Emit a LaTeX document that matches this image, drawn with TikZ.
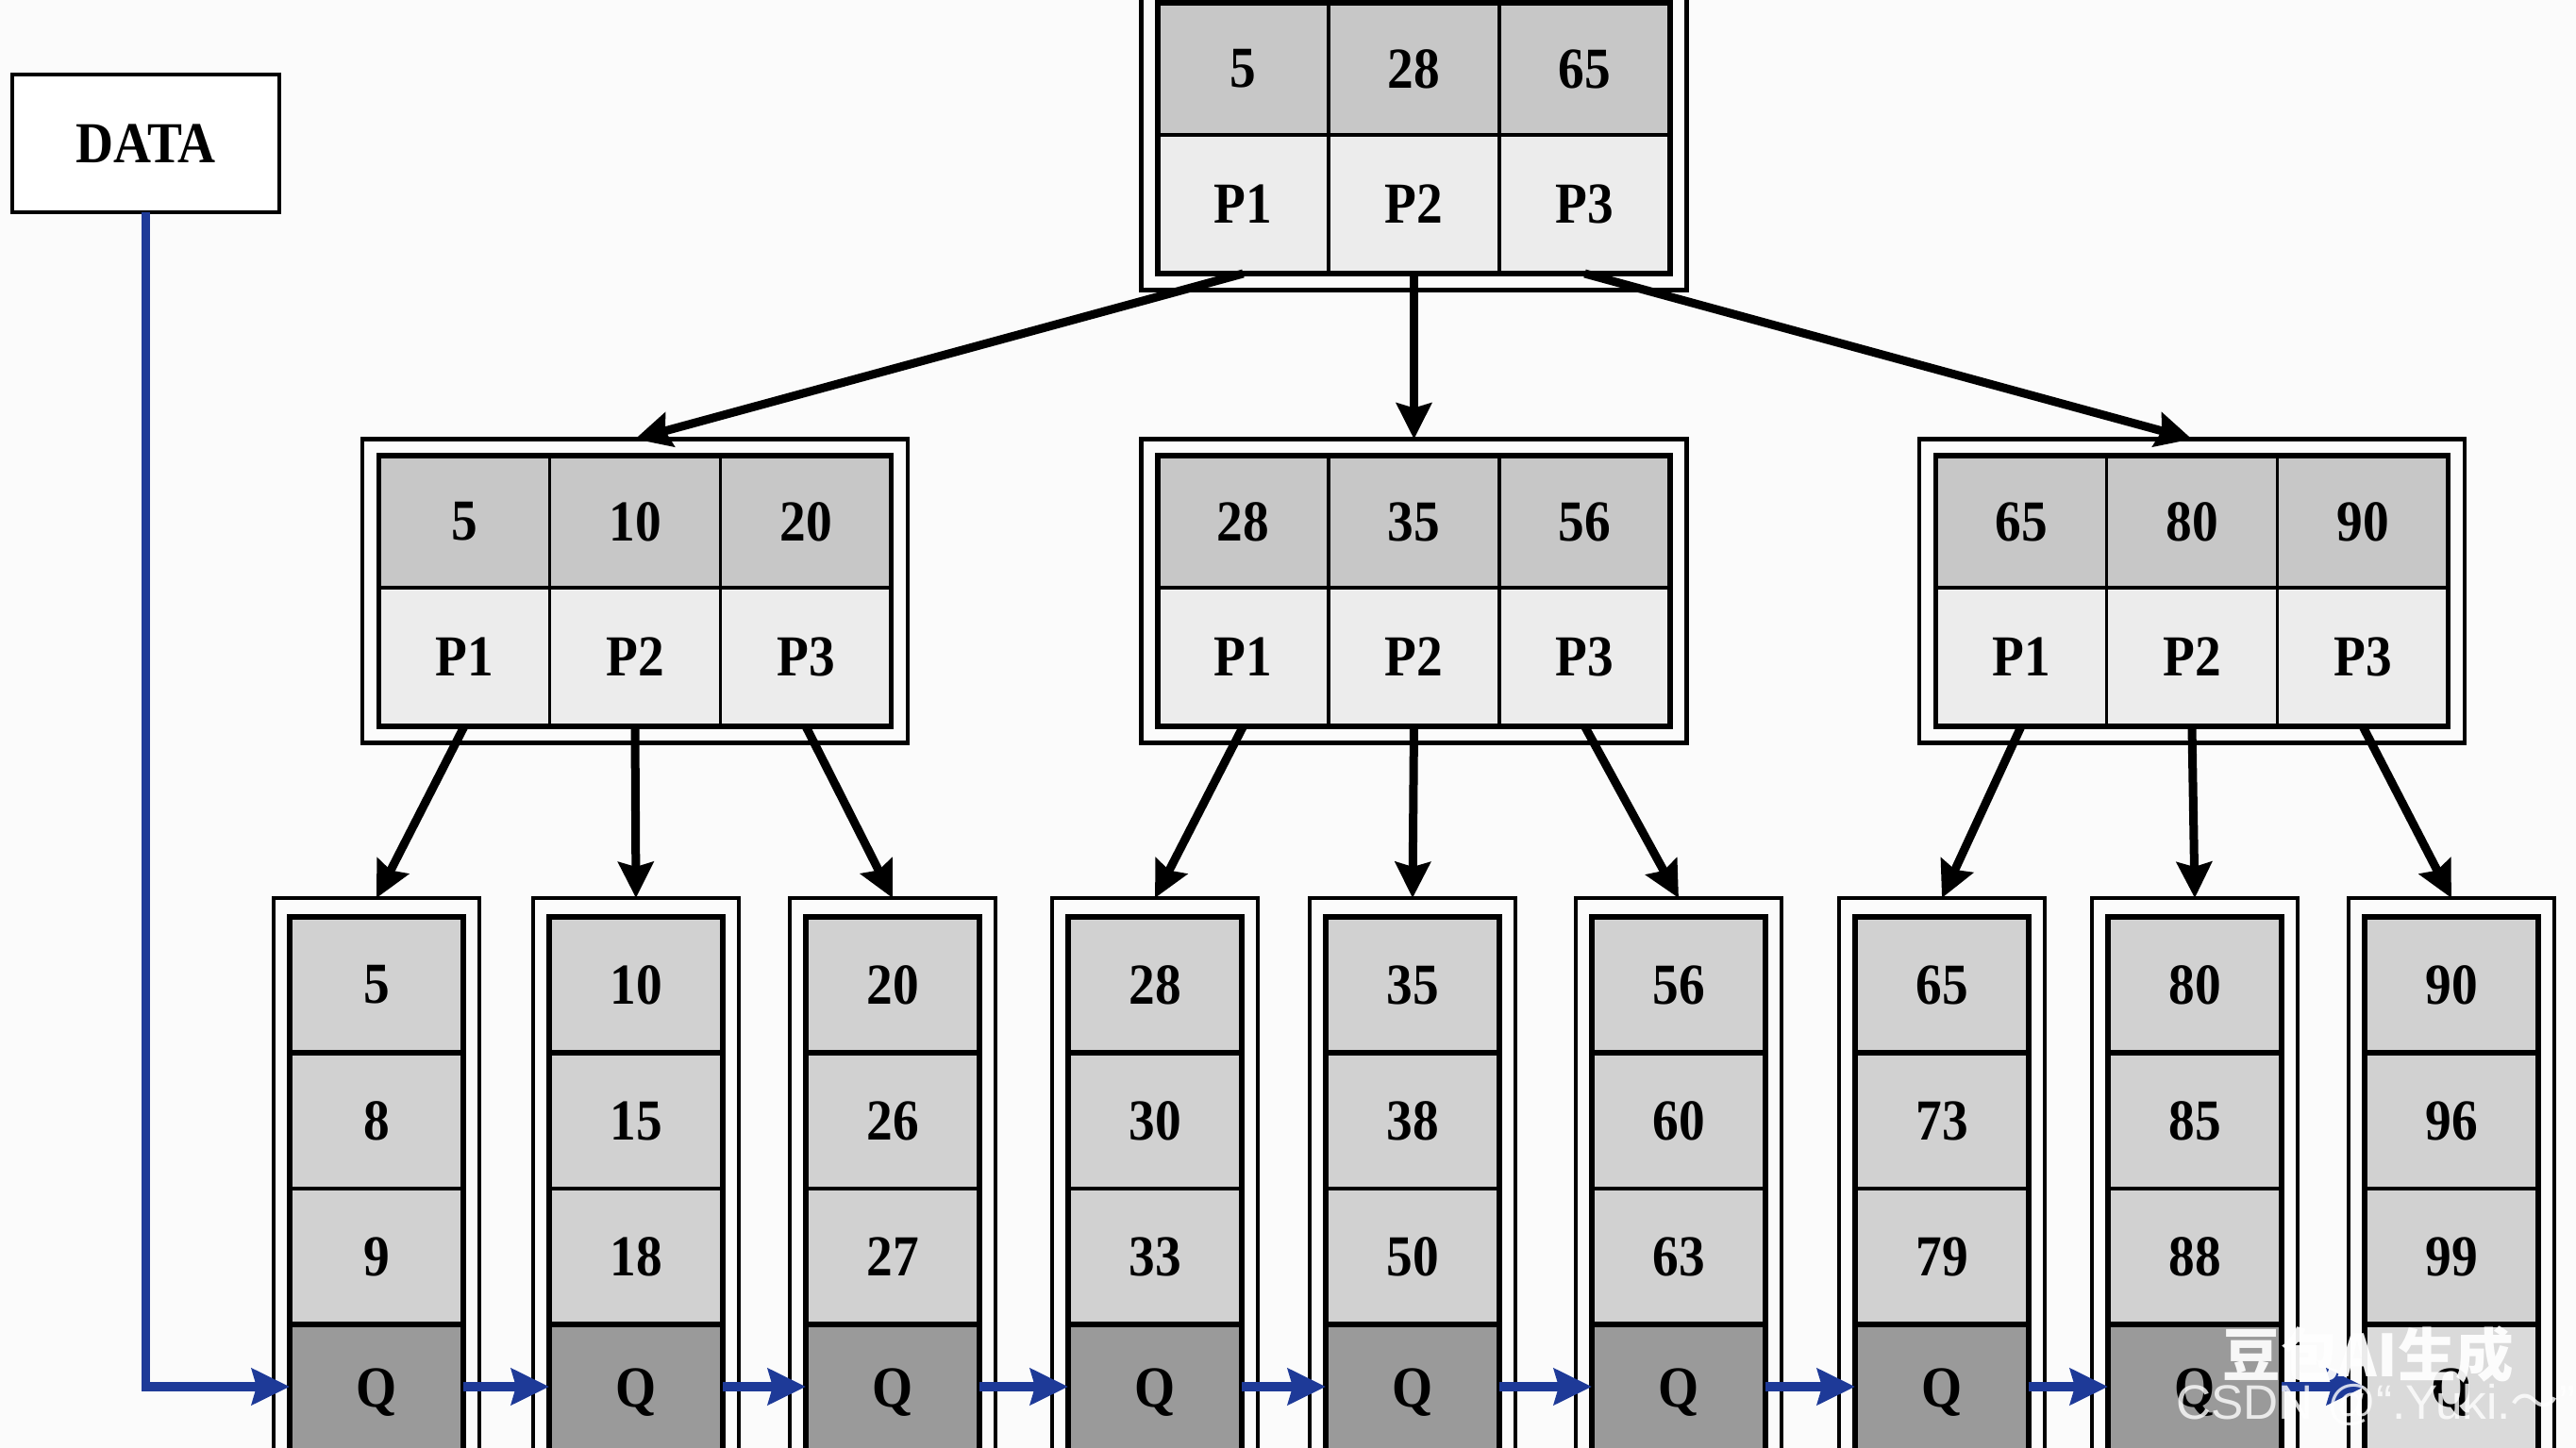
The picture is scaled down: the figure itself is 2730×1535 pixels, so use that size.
\documentclass[tikz,border=0pt]{standalone}
\usepackage{fontspec}
\setmainfont{Liberation Serif}[FakeStretch=0.9]
\setsansfont{Liberation Sans}
\newfontfamily\cjk{Noto Sans CJK SC}
\usetikzlibrary{arrows.meta,fit}

\definecolor{pagebg}{RGB}{251,251,251}
\definecolor{keyfill}{RGB}{199,199,199}
\definecolor{ptrfill}{RGB}{236,236,236}
\definecolor{leaffill}{RGB}{209,209,209}
\definecolor{qfill}{RGB}{154,154,154}
\definecolor{qlight}{RGB}{218,218,218}
\definecolor{linkblue}{RGB}{30,58,152}

\tikzset{
  cellbase/.style={rectangle, draw=black, line width=1.1pt, inner sep=0pt, outer sep=0pt},
  keycell/.style={cellbase, fill=keyfill, minimum width=18.1mm, minimum height=14mm},
  ptrcell/.style={cellbase, fill=ptrfill, minimum width=18.1mm, minimum height=14.7mm},
  leafcell/.style={cellbase, fill=leaffill, minimum width=18.4mm, minimum height=14.4mm},
  innerframe/.style={rectangle, draw=black, line width=1.5pt, inner sep=0pt, outer sep=0pt},
  outerframe/.style={rectangle, draw=black, line width=1.15pt, inner sep=1.75mm, outer sep=0pt},
  treearrow/.style={draw=black, line width=0.9mm, -{Stealth[length=3.8mm,width=3.7mm,inset=0.5mm]}},
  linkarrow/.style={draw=linkblue, line width=0.95mm, -{Stealth[length=4mm,width=3.8mm,inset=0.5mm]}},
  labelfont/.style={font=\fontsize{17.5}{20}\selectfont\bfseries}
}

% index node: name, centre x, inner top y, three keys
\newcommand{\indexnode}[6]{%
  \foreach \c/\k in {1/#4,2/#5,3/#6}{%
    \node[keycell, labelfont] (#1-k\c) at ({#2+(\c-2)*181},{#3+70}) {\k};
    \node[ptrcell, labelfont] (#1-p\c) at ({#2+(\c-2)*181},{#3+213.5}) {P\c};
  }
  \node[innerframe, fit=(#1-k1)(#1-p3)] (#1-in) {};
  \node[outerframe, fit=(#1-in)] (#1) {};
}

% leaf node: name, centre x, three keys, fill of the Q cell
\newcommand{\leafnode}[6]{%
  \node[leafcell, labelfont] (#1-a) at (#2,1044) {#3};
  \node[leafcell, labelfont] (#1-b) at (#2,1188) {#4};
  \node[leafcell, labelfont] (#1-c) at (#2,1332) {#5};
  \node[leafcell, labelfont, fill=#6] (#1-q) at (#2,1476) {Q};
  \draw[line width=1.7pt] (#1-a.south west) -- (#1-a.south east);
  \draw[line width=1.5pt] (#1-q.north west) -- (#1-q.north east);
  \node[innerframe, fit=(#1-a)(#1-q)] (#1-in) {};
  \node[outerframe, inner xsep=1.7mm, inner ysep=2mm, fit=(#1-in)] (#1) {};
}

\begin{document}
\begin{tikzpicture}[x=0.1mm, y=-0.1mm]
\useasboundingbox (0,0) rectangle (2730,1535);
\clip (0,0) rectangle (2730,1535);
\fill[pagebg] (0,0) rectangle (2730,1535);

% root and second level
\indexnode{t}{1498.5}{3}{5}{28}{65}
\indexnode{m1}{673}{483}{5}{10}{20}
\indexnode{m2}{1498.5}{483}{28}{35}{56}
\indexnode{m3}{2323}{483}{65}{80}{90}

% leaves
\leafnode{l1}{399}{5}{8}{9}{qfill}
\leafnode{l2}{674}{10}{15}{18}{qfill}
\leafnode{l3}{946}{20}{26}{27}{qfill}
\leafnode{l4}{1224}{28}{30}{33}{qfill}
\leafnode{l5}{1497}{35}{38}{50}{qfill}
\leafnode{l6}{1779}{56}{60}{63}{qfill}
\leafnode{l7}{2058}{65}{73}{79}{qfill}
\leafnode{l8}{2326}{80}{85}{88}{qfill}
\leafnode{l9}{2598}{90}{96}{99}{qlight}

% data entry box
\node[rectangle, draw=black, line width=1.2pt, fill=white, minimum width=28.3mm,
      minimum height=14.6mm, inner sep=0pt, outer sep=0pt, labelfont] (data) at (154.5,152) {DATA};

% tree pointers
\draw[treearrow] (t-p1.south) -- (m1.north);
\draw[treearrow] (t-p2.south) -- (m2.north);
\draw[treearrow] (t-p3.south) -- (m3.north);
\draw[treearrow] (m1-p1.south) -- (l1.north);
\draw[treearrow] (m1-p2.south) -- (l2.north);
\draw[treearrow] (m1-p3.south) -- (l3.north);
\draw[treearrow] (m2-p1.south) -- (l4.north);
\draw[treearrow] (m2-p2.south) -- (l5.north);
\draw[treearrow] (m2-p3.south) -- (l6.north);
\draw[treearrow] (m3-p1.south) -- (l7.north);
\draw[treearrow] (m3-p2.south) -- (l8.north);
\draw[treearrow] (m3-p3.south) -- (l9.north);

% leaf chain
\draw[linkarrow] (data.south) |- ([yshift=0.6mm]l1-q.west);
\foreach \a/\b in {l1/l2,l2/l3,l3/l4,l4/l5,l5/l6,l6/l7,l7/l8,l8/l9}{
  \draw[linkarrow] ([yshift=0.6mm]\a-q.east) -- ([yshift=0.6mm]\b-q.west);
}

% watermark
\node[font=\cjk\bfseries\fontsize{17.5}{20}\selectfont, text=white, opacity=0.92, inner sep=0pt] (wm1) at (2510,1436) {豆包AI生成};
\node[font=\sffamily\fontsize{14.6}{18}\selectfont, text=white, opacity=0.8, inner sep=0pt] (wm2) at (2518,1489) {CSDN @“.Yuki.{\cjk ～}”};
\end{tikzpicture}
\end{document}
